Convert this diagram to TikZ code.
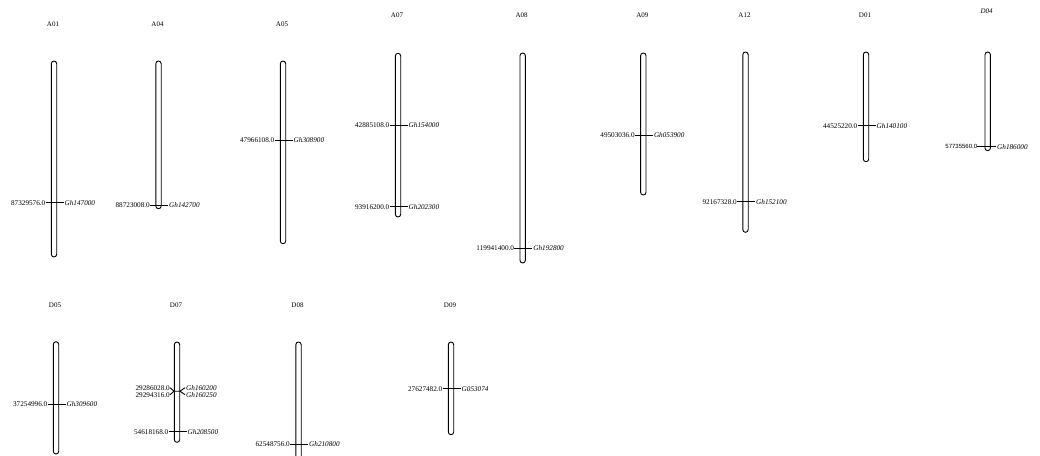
\documentclass[tikz,border=0pt]{standalone}
\usepackage{fontspec}
\setmainfont{Liberation Serif}
\newfontfamily\sansf{Liberation Sans}
\begin{document}
\begin{tikzpicture}[x=1pt,y=-1pt,
 chrom/.style={draw,line width=0.9pt,rounded corners=2.7pt,minimum width=5.4pt,inner sep=0pt,fill=white},
 ttl/.style={font=\fontsize{7}{8}\selectfont,inner sep=0pt},
 num/.style={font=\fontsize{7.2}{8}\selectfont,inner sep=0pt,anchor=east},
 gene/.style={font=\fontsize{7.2}{8}\selectfont\itshape,inner sep=0pt,anchor=west},
 tick/.style={line width=0.9pt}]
\useasboundingbox (0,0) rectangle (1040,455);
\newcommand\chromo[5]{% name, cx, top, bottom, title-y
  \node[chrom,minimum height={#4-#3}] (c#1) at (#2,{(#3+#4)/2}) {};
  \node[ttl] (t#1) at (#2-1,#5) {#1};}
\newcommand\gmark[5]{% name, cx, y, number, gene
  \node[num] (#1n) at (#2-8.5,#3) {#4};
  \node[gene] (#1g) at (#2+10.5,#3) {#5};
  \draw[tick] (#1n.east) -- ([xshift=-1pt]#1g.west);}
% top row
\chromo{A01}{54}{61}{257}{24}
\gmark{a01}{54}{202.7}{87329576.0}{Gh147000}
\chromo{A04}{158.5}{61}{208.7}{24}
\gmark{a04}{158.5}{205.3}{88723008.0}{Gh142700}
\chromo{A05}{283}{61}{243.7}{24}
\gmark{a05}{283}{140.3}{47966108.0}{Gh308900}
\chromo{A07}{398}{53.3}{217}{15.5}
\gmark{a07a}{398}{125}{42885108.0}{Gh154000}
\gmark{a07b}{398}{206.7}{93916200.0}{Gh202300}
\chromo{A08}{522.7}{53}{263}{15.5}
\gmark{a08}{522.7}{248}{119941400.0}{Gh192800}
\chromo{A09}{643.3}{53}{195}{15.5}
\gmark{a09}{643.3}{135}{49503036.0}{Gh053900}
\chromo{A12}{745.5}{52}{232.3}{15}
\gmark{a12}{745.5}{201.7}{92167328.0}{Gh152100}
\chromo{D01}{866}{52}{161.7}{15}
\gmark{d01}{866}{125.7}{44525220.0}{Gh140100}
% D04
\node[chrom,minimum height=98.7pt] (cD04) at (987.7,101.35) {};
\node[ttl,font=\fontsize{7}{8}\selectfont\itshape] (tD04) at (986.7,11.3) {D04};
\node[num,font=\sansf\fontsize{6}{7}\selectfont] (d04n) at (977.3,146.7) {57735560.0};
\node[gene,font=\fontsize{7.2}{8}\selectfont\itshape] (d04g) at (997,146.7) {Gh186000};
\draw[tick] (d04n.east) -- ([xshift=-1.5pt]d04g.west);
% bottom row
\chromo{D05}{56}{341.7}{454}{305}
\gmark{d05}{56}{404}{37254996.0}{Gh309600}
\chromo{D07}{177}{342}{442.3}{305}
\node[num] (d07an) at (170,387.7) {29286028.0};
\node[num] (d07bn) at (170,394.7) {29294316.0};
\node[gene] (d07ag) at (186,387.7) {Gh160200};
\node[gene] (d07bg) at (186,394.7) {Gh160250};
\coordinate (d07l) at (174,391.2);
\coordinate (d07r) at (180,391.2);
\draw[tick] (d07an.east) -- (d07l) -- (d07r) -- ([xshift=-1pt]d07ag.west);
\draw[tick] (d07bn.east) -- (d07l);
\draw[tick] (d07r) -- ([xshift=-1pt]d07bg.west);
\gmark{d07c}{177}{431.7}{54618168.0}{Gh208500}
\chromo{D08}{298.5}{342}{480}{305}
\gmark{d08}{298.5}{444.3}{62548756.0}{Gh210800}
\chromo{D09}{451}{342}{434.7}{305}
\gmark{d09}{451}{388.7}{27627482.0}{G053074}
\end{tikzpicture}
\end{document}
